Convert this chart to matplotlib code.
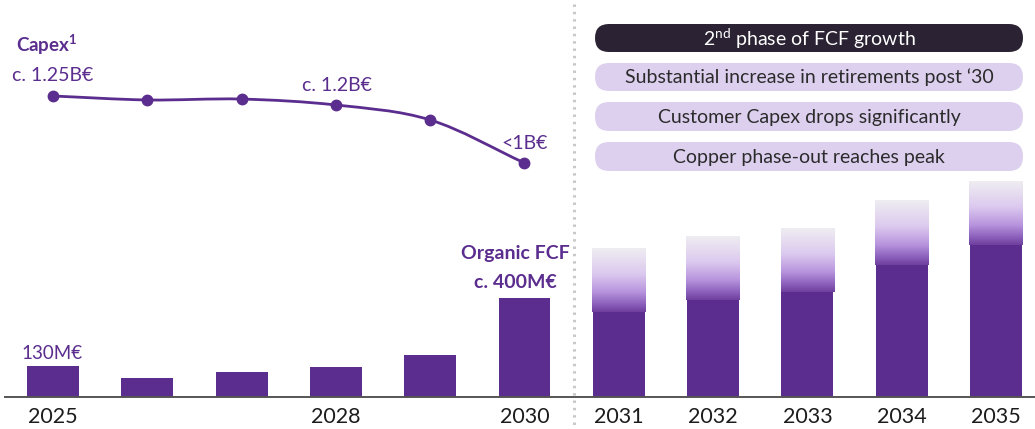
import numpy as np
import matplotlib
matplotlib.use('Agg')
import matplotlib.pyplot as plt
from matplotlib.patches import FancyBboxPatch, PathPatch
from matplotlib.path import Path
from matplotlib.colors import LinearSegmentedColormap

plt.rcParams['font.family'] = ['Lato', 'DejaVu Sans']
plt.rcParams['mathtext.fontset'] = 'custom'
plt.rcParams['mathtext.rm'] = 'Lato'
plt.rcParams['mathtext.bf'] = 'Lato:bold'
plt.rcParams['mathtext.it'] = 'Lato:italic'

# ---------------- data ----------------
years = [2025, 2026, 2027, 2028, 2029, 2030, 2031, 2032, 2033, 2034, 2035]
tick_labels = ['2025', '', '', '2028', '', '2030', '2031', '2032', '2033', '2034', '2035']
fcf_base = [130, 82, 105, 128, 178, 420, 361, 412, 446, 561, 646]          # M€, solid bars
fcf_upside_top = [None, None, None, None, None, None, 633, 684, 718, 837, 918]  # M€, gradient range top
capex_years = [2025, 2026, 2027, 2028, 2029, 2030]
capex = [1.25, 1.228, 1.233, 1.20, 1.117, 0.878]                          # B€
capex_labels = {2025: 'c. 1.25B€', 2028: 'c. 1.2B€', 2030: '<1B€'}
pill_texts = ['2$^{\\rm nd}$ phase of FCF growth',
              'Substantial increase in retirements post \u201830',
              'Customer Capex drops significantly',
              'Copper phase-out reaches peak']

PURPLE = '#5b2d8e'
W, H = 1035, 429
fig = plt.figure(figsize=(W / 100, H / 100), dpi=100)

# bars axis
ax = fig.add_axes([0, 0, 1, 1])
ax.axis('off')
x = np.arange(len(years))
bw = 0.55
ax.bar(x, fcf_base, width=bw, color=PURPLE, zorder=3)

cmap = LinearSegmentedColormap.from_list('fade', [
    (0.0, '#6f3f9c'), (0.12, '#8a5fbb'), (0.32, '#b995de'),
    (0.6, '#dccaef'), (1.0, '#efedf1')])
grad = np.linspace(0, 1, 256).reshape(-1, 1)
for i, top in enumerate(fcf_upside_top):
    if top is None:
        continue
    ax.imshow(grad, extent=(x[i] - bw / 2 - 0.01, x[i] + bw / 2 + 0.01, fcf_base[i], top),
              origin='lower', aspect='auto', cmap=cmap, zorder=2, interpolation='bicubic')

px_x = 94.3
x0 = 53
ax.set_xlim(-x0 / px_x, (W - x0) / px_x)
mpp = 4.25  # M€ per pixel
ax.set_ylim(-32 * mpp, 397 * mpp)
ax.axhline(0, xmin=5 / W, xmax=1, color='#555555', lw=1.4, zorder=4)

for i, lab in enumerate(tick_labels):
    if lab:
        ax.text(x[i], -26 * mpp, lab, ha='center', va='baseline', fontsize=15.5, color='#1c1c1c')

ax.text(x[0] - 0.33, fcf_base[0] + 7 * mpp, '130M€', ha='left', va='baseline',
        fontsize=13.5, color=PURPLE)
ax.text(x[5] - 0.1, fcf_base[5] + 39 * mpp, 'Organic FCF', ha='center', va='baseline',
        fontsize=14, fontweight='bold', color=PURPLE)
ax.text(x[5] - 0.1, fcf_base[5] + 10 * mpp, 'c. 400M€', ha='center', va='baseline',
        fontsize=14, fontweight='bold', color=PURPLE)

# capex line axis
ax2 = fig.add_axes([0, 0, 1, 1], sharex=ax)
ax2.patch.set_alpha(0)
ax2.axis('off')
cx = np.array([years.index(y) for y in capex_years], dtype=float)
cy = np.array(capex)
bpp = 1 / 180.0  # B€ per pixel
ax2.set_ylim(1.25 - 333 * bpp, 1.25 + 96 * bpp)

# smooth curve through points (Catmull-Rom -> cubic Bezier)
pts = np.column_stack([cx, cy])
ext = np.vstack([pts[0] - (pts[1] - pts[0]), pts, pts[-1] + (pts[-1] - pts[-2])])
verts = [tuple(pts[0])]
codes = [Path.MOVETO]
for k in range(1, len(ext) - 2):
    p0, p1, p2, p3 = ext[k - 1], ext[k], ext[k + 1], ext[k + 2]
    c1 = p1 + (p2 - p0) / 6.0
    c2 = p2 - (p3 - p1) / 6.0
    verts += [tuple(c1), tuple(c2), tuple(p2)]
    codes += [Path.CURVE4] * 3
ax2.add_patch(PathPatch(Path(verts, codes), fill=False, edgecolor=PURPLE, lw=2.0, zorder=5))
ax2.plot(cx, cy, 'o', color=PURPLE, ms=7.5, zorder=6)

for yr, lab in capex_labels.items():
    i = capex_years.index(yr)
    if yr == 2025:
        ax2.text(cx[i] - 0.43, cy[i] + 15 * bpp, lab, ha='left', va='baseline', fontsize=14, color=PURPLE)
    elif yr == 2028:
        ax2.text(cx[i] - 0.36, cy[i] + 14 * bpp, lab, ha='left', va='baseline', fontsize=14, color=PURPLE)
    else:
        ax2.text(cx[i] - 0.24, cy[i] + 14 * bpp, lab, ha='left', va='baseline', fontsize=14, color=PURPLE)
ax2.text(cx[0] - 0.39, cy[0] + 44 * bpp, 'Capex$^{\\mathbf{1}}$', ha='left', va='baseline',
         fontsize=13.5, fontweight='bold', color=PURPLE)

# overlay in pixel coordinates for layout elements
ov = fig.add_axes([0, 0, 1, 1])
ov.patch.set_alpha(0)
ov.axis('off')
ov.set_xlim(0, W)
ov.set_ylim(H, 0)
ov.plot([574, 574], [4, H], color='#c9c9c9', lw=2.2, linestyle=(0, (0.8, 1.6)), zorder=1)

pill_tops = [24, 63, 102, 142]
pill_h = [28, 28, 29, 29]
for k, txt in enumerate(pill_texts):
    fc = '#2b2333' if k == 0 else '#ddd0ef'
    tc = 'white' if k == 0 else '#2b2b2b'
    ov.add_patch(FancyBboxPatch((595, pill_tops[k]), 428, pill_h[k],
                                boxstyle='round,pad=0,rounding_size=14', fc=fc, ec='none', zorder=2))
    ov.text(809, pill_tops[k] + pill_h[k] / 2 + 0.5, txt, ha='center', va='center',
            fontsize=14, color=tc, zorder=3)

fig.savefig('out.png', dpi=100)
